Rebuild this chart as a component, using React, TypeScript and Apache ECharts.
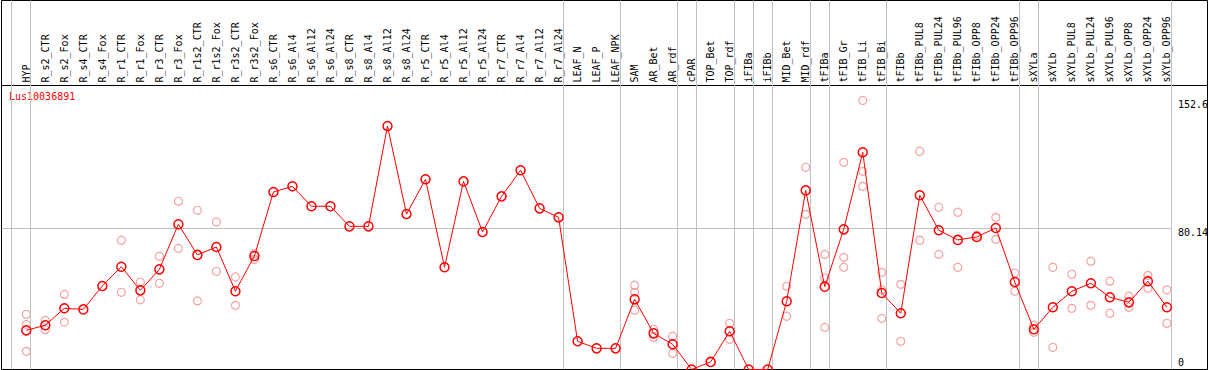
import React, { useEffect, useRef } from "react";
import * as echarts from "echarts";

const title = "Lus10036891";

const groups: string[][] = [
  ["HYP"],
  [
    "R_s2_CTR", "R_s2_Fox", "R_s4_CTR", "R_s4_Fox", "R_r1_CTR", "R_r1_Fox", "R_r3_CTR", "R_r3_Fox",
    "R_r1s2_CTR", "R_r1s2_Fox", "R_r3s2_CTR", "R_r3s2_Fox", "R_s6_CTR", "R_s6_Al4", "R_s6_Al12", "R_s6_Al24",
    "R_s8_CTR", "R_s8_Al4", "R_s8_Al12", "R_s8_Al24", "R_r5_CTR", "R_r5_Al4", "R_r5_Al12", "R_r5_Al24",
    "R_r7_CTR", "R_r7_Al4", "R_r7_Al12", "R_r7_Al24",
  ],
  ["LEAF_N", "LEAF_P", "LEAF_NPK"],
  ["SAM", "AR_Bet", "AR_rdf"],
  ["cPAR"],
  ["TOP_Bet", "TOP_rdf"],
  ["iFIBa"],
  ["iFIBb"],
  ["MID_Bet", "MID_rdf"],
  ["tFIBa"],
  ["tFIB_Gr", "tFIB_Li", "tFIB_Bi"],
  ["tFIBb", "tFIBb_PUL8", "tFIBb_PUL24", "tFIBb_PUL96", "tFIBb_OPP8", "tFIBb_OPP24", "tFIBb_OPP96"],
  ["sXYLa"],
  ["sXYLb", "sXYLb_PUL8", "sXYLb_PUL24", "sXYLb_PUL96", "sXYLb_OPP8", "sXYLb_OPP24", "sXYLb_OPP96"],
];

const categories: string[] = groups.flat();

const means: number[] = [
  22.2, 25.1, 34.7, 34.1, 47.4, 58.3, 44.9, 56.8, 82.4, 65.0,
  69.5, 44.4, 64.4, 100.7, 103.9, 92.6, 92.6, 81.2, 81.2, 138.1,
  88.2, 107.9, 58.0, 106.7, 78.0, 98.2, 113.0, 91.4, 86.3, 16.0,
  12.0, 12.0, 39.8, 20.5, 14.3, 0, 4.3, 21.7, 0, 0,
  38.7, 101.6, 47.0, 79.5, 123.2, 43.4, 31.9, 98.8, 79.0, 73.5,
  75.2, 80.3, 49.6, 22.8, 35.3, 44.4, 48.9, 41.0, 38.1, 50.1,
  35.3,
];

const replicates: number[][] = [
  [31.3, 25.6, 10.3], [27.9, 22.6], [42.6, 26.9], [], [], [73.3, 43.8], [49.6, 39.6], [64.2, 48.9], [95.4, 68.7], [90.3, 38.9],
  [83.7, 55.7], [52.5, 36.4], [65.7, 62.5], [], [], [], [], [], [], [],
  [], [], [], [], [], [], [], [], [], [],
  [], [], [47.8, 43.8, 33.6], [22.8, 18.3], [18.9, 9.2], [], [], [26.2, 17.1], [], [],
  [47.2, 30.2], [114.7, 88.0], [65.3, 51.9, 23.9], [117.5, 63.6, 58.0], [152.6, 112.4, 103.9], [55.1, 45.2, 29.0], [48.3, 16.0], [123.8, 73.3], [92.0, 65.3], [89.2, 58.0],
  [76.1], [86.3, 73.8], [54.7, 44.4], [25.1, 21.1], [58.0, 12.6], [54.0, 34.7], [61.4, 36.4], [50.1, 31.9], [41.6, 35.3], [53.4, 46.1],
  [45.2, 26.2],
];

const yTickValues: number[] = [152.6, 80.14, 0];
const yTickLabels: string[] = ["152.6", "80.14", "0"];
const refLineValue = 80.14;

const FONT = "'DejaVu Sans Mono', monospace";

export default function App() {
  const ref = useRef<HTMLDivElement>(null);

  useEffect(() => {
    if (!ref.current) return;
    const chart = echarts.init(ref.current, null, { renderer: "svg" });

    // layout of the category positions
    const firstCenter = 26.3;
    const step = 19.01;
    const gLeft = 1.5;
    const gRight = 1207.5;
    const gTop = 0.5;
    const gBottom = 369.5;
    const kY = 1.763;
    const xMin = (gLeft - firstCenter) / step;
    const xMax = (gRight - firstCenter) / step;
    const yMax = (gBottom - gTop) / kY;

    // group boundaries
    const boundaries: number[] = [-1 + 0.23];
    let acc = -1;
    groups.forEach((g) => {
      acc += g.length;
      boundaries.push(acc + 0.23);
    });
    const lastBoundary = boundaries[boundaries.length - 1];

    const repData: number[][] = [];
    replicates.forEach((r, i) => r.forEach((v) => repData.push([i, v])));
    const meanData = means.map((v, i) => [i, v]);

    chart.setOption({
      animation: false,
      grid: [
        {
          left: gLeft,
          top: gTop,
          width: gRight - gLeft,
          height: gBottom - gTop,
          show: true,
          borderColor: "#000",
          borderWidth: 1,
          backgroundColor: "transparent",
        },
        {
          left: firstCenter - step / 2,
          width: step * categories.length,
          top: 85.5,
          height: 284,
          show: false,
        },
      ],
      xAxis: [
        {
          type: "value",
          gridIndex: 0,
          min: xMin,
          max: xMax,
          show: false,
          splitLine: { show: false },
        },
        {
          type: "category",
          gridIndex: 1,
          position: "top",
          data: categories,
          boundaryGap: true,
          axisLine: { show: false },
          axisTick: { show: false },
          splitLine: { show: false },
          axisLabel: {
            interval: 0,
            rotate: 90,
            margin: 3,
            color: "#000",
            fontFamily: FONT,
            fontSize: 10,
          },
        },
      ],
      yAxis: [
        {
          type: "value",
          gridIndex: 0,
          min: 0,
          max: yMax,
          show: false,
          splitLine: { show: false },
        },
        {
          type: "value",
          gridIndex: 1,
          show: false,
          splitLine: { show: false },
        },
      ],
      series: [
        {
          type: "scatter",
          xAxisIndex: 0,
          yAxisIndex: 0,
          data: repData,
          symbol: "circle",
          symbolSize: 8,
          itemStyle: { color: "rgba(0,0,0,0)", borderColor: "#f08c8c", borderWidth: 1.2 },
          z: 3,
          silent: true,
          markLine: {
            silent: true,
            symbol: "none",
            label: { show: false },
            lineStyle: { color: "#c0c0c0", width: 1, type: "solid" },
            data: [
              ...boundaries.map((b) => ({ xAxis: b })),
              [
                { coord: [xMin, refLineValue] },
                { coord: [lastBoundary, refLineValue] },
              ],
            ],
          },
        },
        {
          type: "line",
          xAxisIndex: 0,
          yAxisIndex: 0,
          data: meanData,
          symbol: "circle",
          symbolSize: 9,
          showAllSymbol: true,
          lineStyle: { color: "#ff0000", width: 1 },
          itemStyle: { color: "rgba(0,0,0,0)", borderColor: "#ff0000", borderWidth: 1.5 },
          z: 5,
          silent: true,
        },
      ],
    });

    const texts: any[] = yTickValues.map((v, i) => {
      const p = chart.convertToPixel({ xAxisIndex: 0, yAxisIndex: 0 }, [xMax, v]) as number[];
      const y = Math.min(p[1] + 4, 362);
      return {
        type: "text",
        x: 1178,
        y,
        style: {
          text: yTickLabels[i],
          fill: "#000",
          font: `10px ${FONT}`,
          textVerticalAlign: "middle",
          verticalAlign: "middle",
        },
        silent: true,
      };
    });

    chart.setOption({
      graphic: [
        {
          type: "line",
          shape: { x1: gLeft, y1: 85.5, x2: gRight, y2: 85.5 },
          style: { stroke: "#000", lineWidth: 1 },
          silent: true,
        },
        {
          type: "text",
          x: 9,
          y: 91,
          style: { text: title, fill: "#ff0000", font: `10px ${FONT}` },
          silent: true,
        },
        ...texts,
      ],
    });

    return () => chart.dispose();
  }, []);

  return (
    <div
      ref={ref}
      style={{ position: "fixed", left: 0, top: 0, width: 1209, height: 370, background: "#fff" }}
    />
  );
}
